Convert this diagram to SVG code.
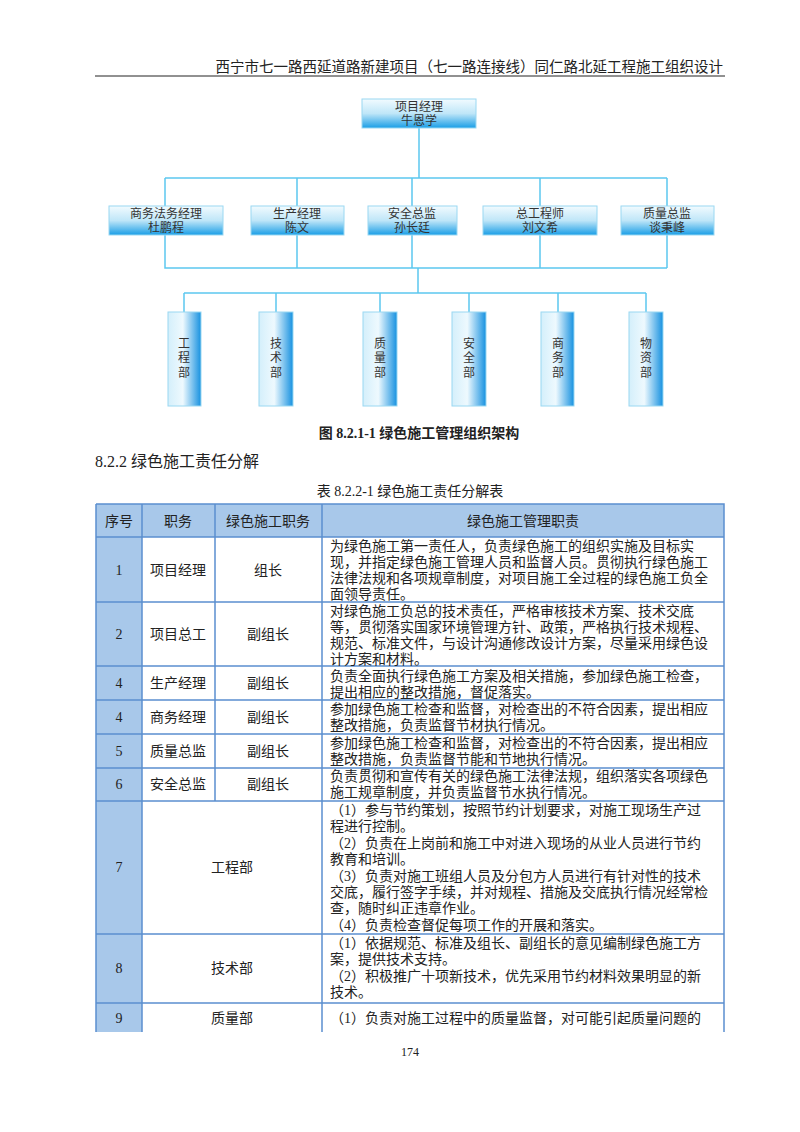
<svg xmlns="http://www.w3.org/2000/svg" width="800" height="1132" viewBox="0 0 800 1132">
<defs>
<linearGradient id="gv" x1="0" y1="0" x2="0" y2="1"><stop offset="0" stop-color="#f2fbff"/><stop offset="0.5" stop-color="#bfe6f8"/><stop offset="1" stop-color="#1a9ee6"/></linearGradient>
<linearGradient id="gh" x1="0" y1="0" x2="1" y2="0"><stop offset="0" stop-color="#d4effb"/><stop offset="0.45" stop-color="#eef9fe"/><stop offset="1" stop-color="#1691e0"/></linearGradient>
<style>
text{font-family:"Liberation Serif","Noto Sans CJK SC",serif;fill:#222}
.t{font-size:14px}
.c{text-anchor:middle}
.n{font-size:12px;text-anchor:middle;fill:#333}
.b1{fill:url(#gv);stroke:#9ad8f2;stroke-width:1}
.b2{fill:url(#gh);stroke:#9ad8f2;stroke-width:1}
.ln{stroke:#5cc8ef;stroke-width:1.5;fill:none}
.g{stroke:#5b8fcf;stroke-width:1.5;fill:none}
.hf{fill:#a8c8ea}
</style>
</defs>
<rect width="800" height="1132" fill="#fff"/>
<text x="723" y="72" style="font-size:14.5px" text-anchor="end">西宁市七一路西延道路新建项目（七一路连接线）同仁路北延工程施工组织设计</text>
<line x1="95" y1="76" x2="725" y2="76" stroke="#222" stroke-width="1"/>
<g id="connectors">
<path class="ln" d="M419 128V178M165 178H667M165 178V206M297 178V206M412 178V206M540 178V206M667 178V206"/>
<path class="ln" d="M165 235V268H667M297 235V268M412 235V268M540 235V268M667 235V268M418 268V293M184 293H646M184 293V312M276 293V312M380 293V312M469 293V312M558 293V312M646 293V312"/>
</g>
<g id="n0"><rect class="b1" x="362" y="99" width="114" height="29"/><text class="n" x="419" y="111">项目经理</text><text class="n" x="419" y="125">牛恩学</text></g>
<g id="n1"><rect class="b1" x="109" y="206" width="114" height="29"/><text class="n" x="166" y="218">商务法务经理</text><text class="n" x="166" y="232">杜鹏程</text></g>
<g id="n2"><rect class="b1" x="251" y="206" width="93" height="29"/><text class="n" x="297" y="218">生产经理</text><text class="n" x="297" y="232">陈文</text></g>
<g id="n3"><rect class="b1" x="368" y="206" width="89" height="29"/><text class="n" x="412" y="218">安全总监</text><text class="n" x="412" y="232">孙长廷</text></g>
<g id="n4"><rect class="b1" x="483" y="206" width="114" height="29"/><text class="n" x="540" y="218">总工程师</text><text class="n" x="540" y="232">刘文希</text></g>
<g id="n5"><rect class="b1" x="621" y="206" width="93" height="29"/><text class="n" x="667" y="218">质量总监</text><text class="n" x="667" y="232">谈秉峰</text></g>
<g id="d1"><rect class="b2" x="168" y="312" width="33" height="94"/><text class="n" x="184" y="348">工</text><text class="n" x="184" y="362">程</text><text class="n" x="184" y="377">部</text></g>
<g id="d2"><rect class="b2" x="259" y="312" width="34" height="94"/><text class="n" x="276" y="348">技</text><text class="n" x="276" y="362">术</text><text class="n" x="276" y="377">部</text></g>
<g id="d3"><rect class="b2" x="363" y="312" width="34" height="94"/><text class="n" x="380" y="348">质</text><text class="n" x="380" y="362">量</text><text class="n" x="380" y="377">部</text></g>
<g id="d4"><rect class="b2" x="452" y="312" width="34" height="94"/><text class="n" x="469" y="348">安</text><text class="n" x="469" y="362">全</text><text class="n" x="469" y="377">部</text></g>
<g id="d5"><rect class="b2" x="541" y="312" width="33" height="94"/><text class="n" x="558" y="348">商</text><text class="n" x="558" y="362">务</text><text class="n" x="558" y="377">部</text></g>
<g id="d6"><rect class="b2" x="629" y="312" width="34" height="94"/><text class="n" x="646" y="348">物</text><text class="n" x="646" y="362">资</text><text class="n" x="646" y="377">部</text></g>
<text x="419" y="438" class="c" style="font-size:14px;font-weight:bold">图 8.2.1-1 绿色施工管理组织架构</text>
<text x="95" y="467" style="font-size:16px">8.2.2 绿色施工责任分解</text>
<text x="410" y="496" class="c" style="font-size:14px">表 8.2.2-1  绿色施工责任分解表</text>
<g id="table">
<rect class="hf" x="96" y="504" width="628" height="33"/>
<rect class="hf" x="96" y="537" width="46" height="495"/>
<path class="g" d="M96 504H724V1032M96 504V1032M96 537H724M96 602H724M96 666H724M96 700H724M96 734H724M96 768H724M96 801H724M96 934H724M96 1003H724M142 504V1032M215 504V801M322 504V1032"/>
<g class="t">
<text class="c" x="119" y="526">序号</text><text class="c" x="178" y="526">职务</text><text class="c" x="268" y="526">绿色施工职务</text><text class="c" x="523" y="526">绿色施工管理职责</text>
<text class="c" x="119" y="575">1</text><text class="c" x="178" y="575">项目经理</text><text class="c" x="268" y="575">组长</text>
<text x="330" y="551">为绿色施工第一责任人，负责绿色施工的组织实施及目标实</text>
<text x="330" y="567">现，并指定绿色施工管理人员和监督人员。贯彻执行绿色施工</text>
<text x="330" y="583">法律法规和各项规章制度，对项目施工全过程的绿色施工负全</text>
<text x="330" y="599">面领导责任。</text>
<text class="c" x="119" y="639">2</text><text class="c" x="178" y="639">项目总工</text><text class="c" x="268" y="639">副组长</text>
<text x="330" y="616">对绿色施工负总的技术责任，严格审核技术方案、技术交底</text>
<text x="330" y="632">等，贯彻落实国家环境管理方针、政策，严格执行技术规程、</text>
<text x="330" y="648">规范、标准文件，与设计沟通修改设计方案，尽量采用绿色设</text>
<text x="330" y="664">计方案和材料。</text>
<text class="c" x="119" y="688">4</text><text class="c" x="178" y="688">生产经理</text><text class="c" x="268" y="688">副组长</text>
<text x="330" y="681">负责全面执行绿色施工方案及相关措施，参加绿色施工检查，</text>
<text x="330" y="697">提出相应的整改措施，督促落实。</text>
<text class="c" x="119" y="722">4</text><text class="c" x="178" y="722">商务经理</text><text class="c" x="268" y="722">副组长</text>
<text x="330" y="714">参加绿色施工检查和监督，对检查出的不符合因素，提出相应</text>
<text x="330" y="730">整改措施，负责监督节材执行情况。</text>
<text class="c" x="119" y="756">5</text><text class="c" x="178" y="756">质量总监</text><text class="c" x="268" y="756">副组长</text>
<text x="330" y="748">参加绿色施工检查和监督，对检查出的不符合因素，提出相应</text>
<text x="330" y="764">整改措施，负责监督节能和节地执行情况。</text>
<text class="c" x="119" y="789">6</text><text class="c" x="178" y="789">安全总监</text><text class="c" x="268" y="789">副组长</text>
<text x="330" y="781">负责贯彻和宣传有关的绿色施工法律法规，组织落实各项绿色</text>
<text x="330" y="797">施工规章制度，并负责监督节水执行情况。</text>
<text class="c" x="119" y="872">7</text><text class="c" x="232" y="872">工程部</text>
<text x="330" y="815">（1）参与节约策划，按照节约计划要求，对施工现场生产过</text>
<text x="330" y="831">程进行控制。</text>
<text x="330" y="848">（2）负责在上岗前和施工中对进入现场的从业人员进行节约</text>
<text x="330" y="864">教育和培训。</text>
<text x="330" y="881">（3）负责对施工班组人员及分包方人员进行有针对性的技术</text>
<text x="330" y="897">交底，履行签字手续，并对规程、措施及交底执行情况经常检</text>
<text x="330" y="913">查，随时纠正违章作业。</text>
<text x="330" y="930">（4）负责检查督促每项工作的开展和落实。</text>
<text class="c" x="119" y="973">8</text><text class="c" x="232" y="973">技术部</text>
<text x="330" y="948">（1）依据规范、标准及组长、副组长的意见编制绿色施工方</text>
<text x="330" y="964">案，提供技术支持。</text>
<text x="330" y="981">（2）积极推广十项新技术，优先采用节约材料效果明显的新</text>
<text x="330" y="997">技术。</text>
<text class="c" x="119" y="1023">9</text><text class="c" x="232" y="1023">质量部</text>
<text x="330" y="1023">（1）负责对施工过程中的质量监督，对可能引起质量问题的</text>
</g>
</g>
<text x="410" y="1056" class="c" style="font-size:12px">174</text>
</svg>
